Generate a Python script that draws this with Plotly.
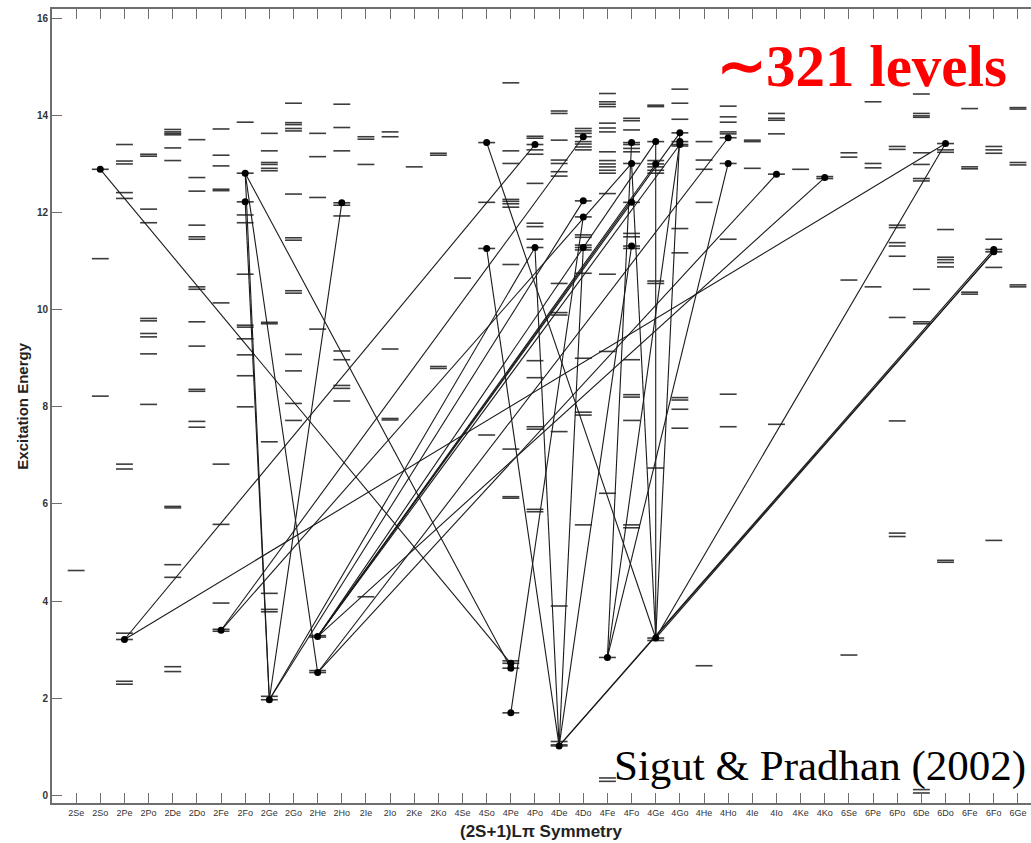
import plotly.graph_objects as go

# Symmetry labels (2S+1)L-parity along the horizontal axis
doublet_syms = ["2Se", "2So", "2Pe", "2Po", "2De", "2Do", "2Fe", "2Fo",
                "2Ge", "2Go", "2He", "2Ho", "2Ie", "2Io", "2Ke", "2Ko"]
quartet_syms = ["4Se", "4So", "4Pe", "4Po", "4De", "4Do", "4Fe", "4Fo",
                "4Ge", "4Go", "4He", "4Ho", "4Ie", "4Io", "4Ke", "4Ko"]
sextet_syms = ["6Se", "6Pe", "6Po", "6De", "6Do", "6Fe", "6Fo", "6Ge"]

# Level energies (eV) for each symmetry, same order as the labels above
doublet_levels = [
    [4.63],
    [12.89, 11.05, 8.22],
    [13.40, 13.06, 13.00, 12.41, 12.29, 6.82, 6.72, 3.34, 3.21, 2.35, 2.29],
    [13.20, 13.16, 12.07, 11.79, 9.82, 9.77, 9.51, 9.44, 9.09, 8.05],
    [13.71, 13.66, 13.63, 13.60, 13.33, 13.07, 5.95, 5.92, 4.75, 4.49, 2.65, 2.55],
    [13.50, 12.72, 12.44, 11.74, 11.50, 11.45, 10.47, 10.42, 9.75, 9.25, 8.36, 8.32, 7.70, 7.58],
    [13.72, 13.18, 12.96, 12.48, 12.45, 10.14, 6.82, 5.58, 3.96, 3.42, 3.38],
    [13.86, 12.81, 12.22, 11.95, 11.79, 10.73, 9.68, 9.64, 9.40, 9.07, 8.64, 8.00],
    [13.63, 13.27, 13.03, 12.99, 12.91, 12.86, 9.74, 9.71, 7.28, 4.16, 3.83, 3.78, 2.04, 1.97],
    [14.25, 13.85, 13.81, 13.73, 13.68, 12.38, 11.48, 11.43, 10.39, 10.34, 9.08, 8.74, 8.07, 7.72],
    [13.63, 13.15, 12.31, 9.60, 3.29, 3.26, 2.57, 2.53],
    [14.23, 13.75, 13.27, 12.20, 12.15, 11.93, 9.15, 8.97, 8.44, 8.38, 8.12],
    [13.56, 13.51, 12.99, 4.09],
    [13.66, 13.56, 9.19, 7.76, 7.73],
    [12.94],
    [13.22, 13.18, 8.83, 8.79],
]
quartet_levels = [
    [10.65],
    [13.44, 12.21, 11.26, 7.42],
    [14.67, 13.27, 13.01, 12.27, 12.23, 12.18, 12.11, 10.93, 7.13, 6.15, 6.12, 2.77, 2.72, 2.62, 1.70],
    [13.57, 13.53, 13.40, 13.29, 13.20, 12.60, 11.78, 11.71, 11.45, 11.28, 8.95, 8.60, 7.59, 7.54, 5.89, 5.84],
    [14.09, 14.04, 13.49, 13.08, 13.01, 12.84, 12.75, 10.54, 9.94, 9.89, 7.49, 3.90, 1.11, 1.04, 1.02],
    [13.73, 13.68, 13.63, 13.56, 13.46, 13.41, 13.35, 13.29, 12.24, 11.91, 11.54, 11.49,
     11.33, 11.28, 11.23, 10.75, 9.00, 7.89, 7.83, 5.57],
    [14.45, 14.28, 14.23, 14.18, 13.84, 13.74, 13.66, 13.25, 13.07, 13.00, 12.94, 12.87,
     12.81, 12.39, 10.73, 9.14, 6.22, 2.84, 0.36, 0.29],
    [13.94, 13.89, 13.70, 13.44, 13.40, 13.32, 13.25, 13.01, 12.21, 11.57, 11.50, 11.31,
     11.26, 8.97, 8.25, 8.20, 7.72, 5.57, 5.51],
    [14.21, 14.18, 13.46, 13.07, 13.00, 12.94, 12.87, 12.81, 10.59, 10.54, 6.74, 3.24, 3.19],
    [14.54, 14.25, 13.92, 13.64, 13.46, 13.40, 13.37, 11.67, 11.17, 8.19, 8.14, 7.95, 7.56],
    [13.46, 13.08, 12.89, 12.21, 2.67],
    [14.19, 13.97, 13.86, 13.66, 13.62, 13.54, 13.01, 11.45, 8.26, 7.59],
    [13.49, 13.46, 12.91],
    [14.04, 13.94, 13.90, 13.62, 12.79, 7.64],
    [12.89],
    [12.74, 12.70],
]
sextet_levels = [
    [13.23, 13.14, 10.61, 2.89],
    [14.28, 13.01, 12.92, 10.47],
    [13.36, 13.30, 11.74, 11.69, 11.38, 11.31, 11.10, 9.84, 7.71, 5.40, 5.33],
    [14.44, 14.04, 13.99, 13.96, 13.23, 12.99, 12.70, 12.65, 10.42, 9.75, 9.71, 0.12, 0.05],
    [13.42, 13.29, 13.24, 11.65, 11.08, 11.03, 10.97, 10.88, 4.84, 4.80],
    [14.14, 12.94, 12.90, 10.36, 10.32],
    [13.36, 13.29, 13.22, 11.45, 11.24, 11.19, 10.87, 5.25],
    [14.16, 14.13, 13.03, 12.98, 10.51, 10.47],
]

# Transitions: (symmetry, energy) of both ends
trans_from_sym = ["2So", "2Pe", "2Pe", "2Fe", "2Fe", "2Fo", "2Fo", "2Fo", "2Fo",
                  "2Ge", "2Ge", "2Ge", "2He", "2He", "2He", "2He", "2He", "2He",
                  "2He", "2He", "4So", "4So", "4Po", "4Do", "4Fo", "4Pe",
                  "4Fe", "4Fe", "4Fe", "4Ge", "4Ge", "4Ge", "4Ge", "4Ge", "4De", "4De"]
trans_from_E = [12.89, 3.21, 3.21, 3.40, 3.40, 12.81, 12.22, 12.81, 12.81,
                1.97, 1.97, 1.97, 3.27, 3.27, 3.27, 3.27, 3.27, 3.27,
                2.53, 2.53, 13.44, 11.26, 11.28, 11.28, 11.31, 1.70,
                2.84, 2.84, 2.84, 3.24, 3.24, 3.24, 3.24, 3.24, 1.02, 1.02]
trans_to_sym = ["4Pe", "4Po", "6Do", "4Do", "4Fo", "2Ge", "2Ge", "2He", "4Pe",
                "2Ho", "4Do", "4Po", "4Fo", "4Ge", "4Ge", "4Go", "4Go", "4Ko",
                "4Io", "4Ho", "4Ge", "4De", "4De", "4De", "4De", "4Do",
                "4Fo", "4Go", "4Ho", "4Ge", "4Fo", "4Go", "6Do", "6Fo", "6Fo", "6Fo"]
trans_to_E = [2.72, 13.40, 13.42, 13.56, 13.01, 1.97, 1.97, 2.53, 2.62,
              12.20, 12.24, 11.28, 12.21, 13.46, 13.00, 13.64, 13.40, 12.72,
              12.79, 13.54, 3.24, 1.02, 1.02, 1.02, 1.02, 11.91,
              13.44, 13.46, 13.01, 13.46, 13.01, 13.64, 13.42, 11.19, 11.19, 11.24]

symmetries = doublet_syms + quartet_syms + sextet_syms
all_levels = doublet_levels + quartet_levels + sextet_levels
pos = {s: i for i, s in enumerate(symmetries)}

HALF = 0.35  # half width of a level bar, in category units

fig = go.Figure()

# Energy level bars
lx, ly = [], []
for i, levs in enumerate(all_levels):
    for e in levs:
        lx += [i - HALF, i + HALF, None]
        ly += [e, e, None]
fig.add_trace(go.Scatter(x=lx, y=ly, mode="lines",
                         line=dict(color="#3c3c3c", width=1.6),
                         hoverinfo="skip", showlegend=False))

# Transition lines
tx, ty = [], []
for s1, e1, s2, e2 in zip(trans_from_sym, trans_from_E, trans_to_sym, trans_to_E):
    tx += [pos[s1], pos[s2], None]
    ty += [e1, e2, None]
fig.add_trace(go.Scatter(x=tx, y=ty, mode="lines",
                         line=dict(color="#1a1a1a", width=1.1),
                         hoverinfo="skip", showlegend=False))

# End-point dots
dots = {}
for s, e in zip(trans_from_sym + trans_to_sym, trans_from_E + trans_to_E):
    dots[(s, e)] = True
fig.add_trace(go.Scatter(x=[pos[s] for s, _ in dots], y=[e for _, e in dots],
                         mode="markers", marker=dict(color="black", size=7),
                         hoverinfo="skip", showlegend=False))

axis_col = "#6e6e6e"
fig.update_xaxes(range=[-1, 39.54], tickmode="array",
                 tickvals=list(range(len(symmetries))), ticktext=symmetries,
                 ticks="inside", ticklen=10, tickwidth=1, tickcolor=axis_col,
                 showline=True, linecolor=axis_col, linewidth=2, mirror="ticks",
                 showgrid=False, zeroline=False,
                 tickfont=dict(family="Liberation Sans, Arial", size=9, color="#333"))
fig.update_yaxes(range=[-0.156, 16.19], tickvals=list(range(0, 17, 2)),
                 ticks="inside", ticklen=10, tickwidth=1, tickcolor=axis_col,
                 showline=True, linecolor=axis_col, linewidth=2, mirror=False,
                 showgrid=False, zeroline=False,
                 tickfont=dict(family="Liberation Sans, Arial", size=10, color="#333",
                               weight="bold"))

# Axis titles
fig.add_annotation(text="Excitation Energy", xref="paper", yref="paper",
                   x=-0.031, y=0.5, textangle=-90, showarrow=False,
                   xanchor="center", yanchor="middle",
                   font=dict(family="Liberation Sans, Arial", size=15, color="#222",
                             weight="bold"))
fig.add_annotation(text="(2S+1)Lπ Symmetry", xref="paper", yref="paper",
                   x=(541 - 52) / (1031 - 52), y=-0.036, showarrow=False,
                   xanchor="center", yanchor="middle",
                   font=dict(family="Liberation Sans, Arial", size=17, color="#222",
                             weight="bold"))

# In-plot labels
fig.add_annotation(text="∼321 levels", xref="paper", yref="paper",
                   x=1.0 - 22 / 979, y=(803 - 66) / 794, showarrow=False,
                   xanchor="right", yanchor="middle",
                   font=dict(family="Liberation Serif, serif", size=59, color="#ff0000",
                             weight="bold"))
fig.add_annotation(text="Sigut & Pradhan (2002)", xref="paper", yref="paper",
                   x=1.0 - 3 / 979, y=(803 - 766) / 794, showarrow=False,
                   xanchor="right", yanchor="middle",
                   font=dict(family="Liberation Serif, serif", size=43, color="black"))

fig.update_layout(width=1031, height=843,
                  margin=dict(l=52, r=0, t=9, b=40),
                  paper_bgcolor="white", plot_bgcolor="white")

fig.write_html("out.html")
